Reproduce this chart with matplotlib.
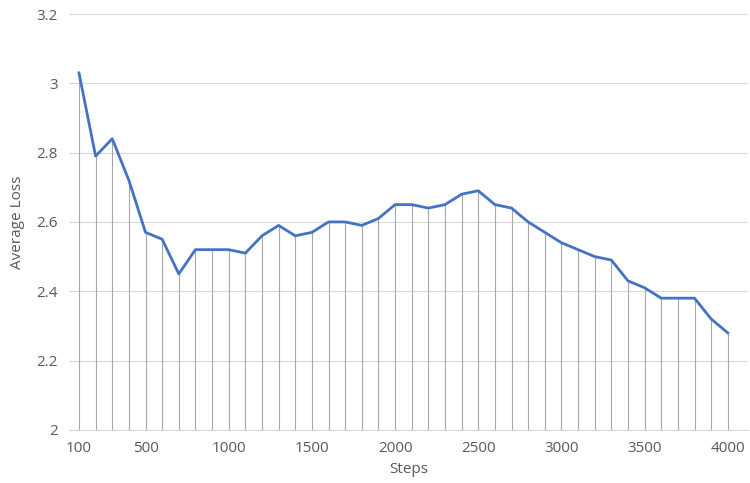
import numpy as np
import matplotlib
matplotlib.use("Agg")
import matplotlib.pyplot as plt
from matplotlib.ticker import FuncFormatter

# dati
steps = list(range(100, 4001, 100))
avg_loss = [3.03, 2.79, 2.84, 2.72, 2.57, 2.55, 2.45, 2.52, 2.52, 2.52,
            2.51, 2.56, 2.59, 2.56, 2.57, 2.60, 2.60, 2.59, 2.61, 2.65,
            2.65, 2.64, 2.65, 2.68, 2.69, 2.65, 2.64, 2.60, 2.57, 2.54,
            2.52, 2.50, 2.49, 2.43, 2.41, 2.38, 2.38, 2.38, 2.32, 2.28]
xtick_vals = [100, 500, 1000, 1500, 2000, 2500, 3000, 3500, 4000]
ytick_vals = [2.0, 2.2, 2.4, 2.6, 2.8, 3.0, 3.2]

plt.rcParams['font.family'] = ['Open Sans', 'DejaVu Sans']
testo = '#595959'

fig = plt.figure(figsize=(7.5, 4.83), dpi=100)
ax = fig.add_axes([0.092, 0.11, 0.905, 0.861])

# linee verticali dai punti all'asse
ax.vlines(steps, 2.0, avg_loss, colors='#A6A6A6', linewidth=0.8, zorder=2)
ax.plot(steps, avg_loss, color='#4472C4', linewidth=2.0, zorder=3,
        solid_joinstyle='round')

ax.set_xlim(40, 4120)
ax.set_ylim(2.0, 3.2)
ax.set_xticks(xtick_vals)
ax.set_yticks(ytick_vals)
ax.yaxis.set_major_formatter(FuncFormatter(lambda v, p: ('%g' % round(v, 1))))
ax.grid(axis='y', color='#D9D9D9', linewidth=0.8, zorder=0)
ax.set_axisbelow(True)
for s in ['top', 'right', 'left']:
    ax.spines[s].set_visible(False)
ax.spines['bottom'].set_color('#D9D9D9')
ax.tick_params(axis='both', length=0, labelsize=11, colors=testo, pad=8)
ax.set_xlabel('Steps', fontsize=11, color=testo, labelpad=4)
ax.set_ylabel('Average Loss', fontsize=11, color=testo, labelpad=8)

fig.savefig('out.png', dpi=100)
